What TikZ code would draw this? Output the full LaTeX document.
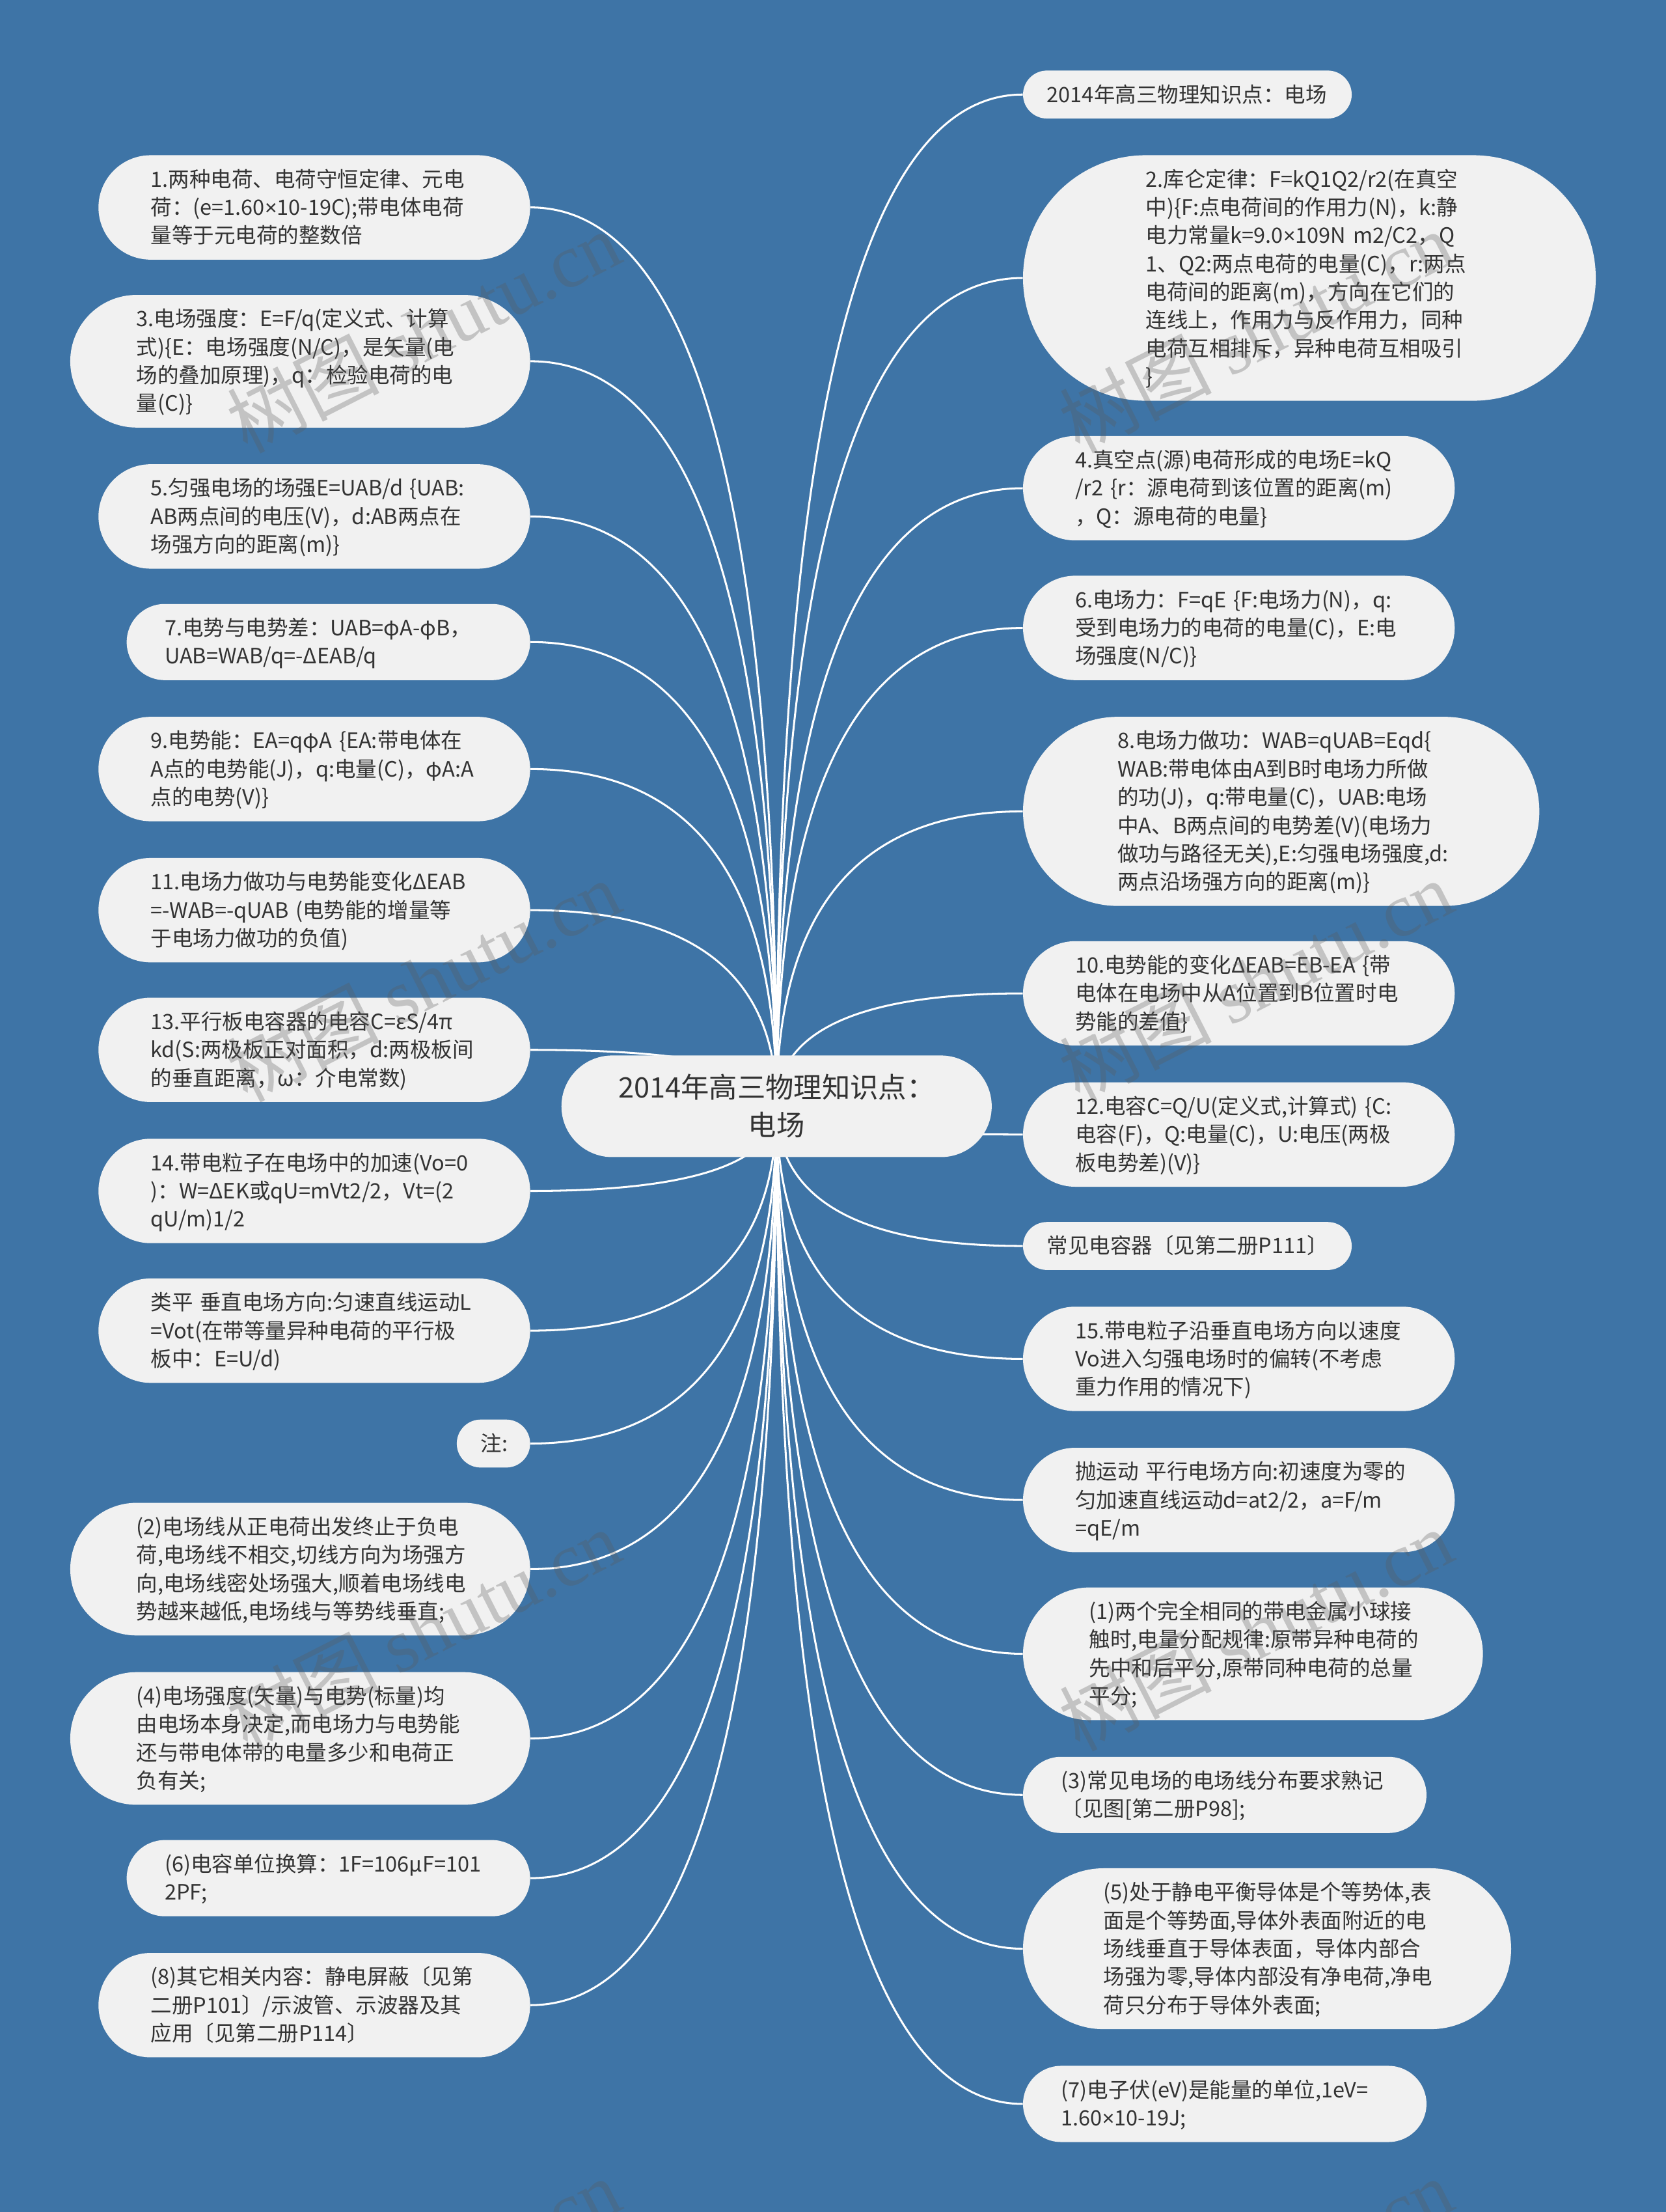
\documentclass[tikz,border=0pt]{standalone}
\usepackage{fontspec}
\setmainfont{Noto Sans CJK SC}
\newfontfamily\markfont{Liberation Serif}
\newfontfamily\symfont{Liberation Sans}
\newcommand{\tms}{{\symfont ×}}
\newcommand{\leafstrut}{\rule[-4.5pt]{0pt}{20pt}}
\newcommand{\hubstrut}{\rule[-6.1pt]{0pt}{27pt}}
\usetikzlibrary{backgrounds,calc}
\definecolor{mapblue}{RGB}{62,116,166}
\definecolor{nodegray}{RGB}{241,241,241}
\definecolor{inkgray}{RGB}{51,51,51}
\definecolor{markgray}{RGB}{90,90,90}
\tikzset{
    x=1pt, y=-1pt,
    leaf/.style={rectangle, fill=nodegray, text=inkgray, inner xsep={10pt*#1+7pt}, inner ysep=7pt,
        rounded corners={10pt*#1+7pt}, text width=232pt, align=left, font=\fontsize{15}{20}\selectfont,
        execute at begin node=\leafstrut, execute at end node=\leafstrut},
    hub/.style={rectangle, fill=nodegray, text=inkgray, inner xsep=36pt, inner ysep=9pt,
        rounded corners=36pt, text width=233pt, align=center, font=\fontsize{20}{27}\selectfont,
        execute at begin node=\hubstrut, execute at end node=\hubstrut},
    link/.style={draw=white, line width=1.4pt},
    mark text/.style={rotate=27, text=markgray, opacity=0.3, font=\fontsize{54}{54}\selectfont}
}

\begin{document}
\begin{tikzpicture}
    \useasboundingbox (0,0) rectangle (1181,1567.6);
    \node[hub] (root) at (550.5,784) {2014年高三物理知识点：\\电场};

    % left side
    \node[leaf=3,anchor=east] (l1) at (376,147) {1.两种电荷、电荷守恒定律、元电\\荷：(e=1.60\tms10-19C);带电体电荷\\量等于元电荷的整数倍};
    \node[leaf=4,anchor=east] (l2) at (376,256) {3.电场强度：E=F/q(定义式、计算\\式)\{E：电场强度(N/C)，是矢量(电\\场的叠加原理)，q：检验电荷的电\\量(C)\}};
    \node[leaf=3,anchor=east] (l3) at (376,366) {5.匀强电场的场强E=UAB/d \{UAB:\\AB两点间的电压(V)，d:AB两点在\\场强方向的距离(m)\}};
    \node[leaf=2,anchor=east] (l4) at (376,455) {7.电势与电势差：UAB=φA-φB，\\UAB=WAB/q=-ΔEAB/q};
    \node[leaf=3,anchor=east] (l5) at (376,545) {9.电势能：EA=qφA \{EA:带电体在\\A点的电势能(J)，q:电量(C)，φA:A\\点的电势(V)\}};
    \node[leaf=3,anchor=east] (l6) at (376,645) {11.电场力做功与电势能变化ΔEAB\\=-WAB=-qUAB (电势能的增量等\\于电场力做功的负值)};
    \node[leaf=3,anchor=east] (l7) at (376,744) {13.平行板电容器的电容C=εS/4π\\kd(S:两极板正对面积，d:两极板间\\的垂直距离，ω：介电常数)};
    \node[leaf=3,anchor=east] (l8) at (376,844) {14.带电粒子在电场中的加速(Vo=0\\)：W=ΔEK或qU=mVt2/2，Vt=(2\\qU/m)1/2};
    \node[leaf=3,anchor=east] (l9) at (376,943) {类平~垂直电场方向:匀速直线运动L\\=Vot(在带等量异种电荷的平行极\\板中：E=U/d)};
    \node[leaf=1,text width=18pt,anchor=east] (l10) at (376,1023) {注:};
    \node[leaf=4,anchor=east] (l11) at (376,1112) {(2)电场线从正电荷出发终止于负电\\荷,电场线不相交,切线方向为场强方\\向,电场线密处场强大,顺着电场线电\\势越来越低,电场线与等势线垂直;};
    \node[leaf=4,anchor=east] (l12) at (376,1232) {(4)电场强度(矢量)与电势(标量)均\\由电场本身决定,而电场力与电势能\\还与带电体带的电量多少和电荷正\\负有关;};
    \node[leaf=2,anchor=east] (l13) at (376,1331) {(6)电容单位换算：1F=106μF=101\\2PF;};
    \node[leaf=3,anchor=east] (l14) at (376,1421) {(8)其它相关内容：静电屏蔽〔见第\\二册P101〕/示波管、示波器及其\\应用〔见第二册P114〕};

    % right side
    \node[leaf=1,text width=199pt,anchor=west] (r1) at (725,67) {2014年高三物理知识点：电场};
    \node[leaf=8,anchor=west] (r2) at (725,197) {2.库仑定律：F=kQ1Q2/r2(在真空\\中)\{F:点电荷间的作用力(N)，k:静\\电力常量k=9.0\tms109N m2/C2，Q\\1、Q2:两点电荷的电量(C)，r:两点\\电荷间的距离(m)，方向在它们的\\连线上，作用力与反作用力，同种\\电荷互相排斥，异种电荷互相吸引\\\}};
    \node[leaf=3,anchor=west] (r3) at (725,346) {4.真空点(源)电荷形成的电场E=kQ\\/r2 \{r：源电荷到该位置的距离(m)\\，Q：源电荷的电量\}};
    \node[leaf=3,anchor=west] (r4) at (725,445) {6.电场力：F=qE \{F:电场力(N)，q:\\受到电场力的电荷的电量(C)，E:电\\场强度(N/C)\}};
    \node[leaf=6,anchor=west] (r5) at (725,575) {8.电场力做功：WAB=qUAB=Eqd\{\\WAB:带电体由A到B时电场力所做\\的功(J)，q:带电量(C)，UAB:电场\\中A、B两点间的电势差(V)(电场力\\做功与路径无关),E:匀强电场强度,d:\\两点沿场强方向的距离(m)\}};
    \node[leaf=3,anchor=west] (r6) at (725,704) {10.电势能的变化ΔEAB=EB-EA \{带\\电体在电场中从A位置到B位置时电\\势能的差值\}};
    \node[leaf=3,anchor=west] (r7) at (725,804) {12.电容C=Q/U(定义式,计算式) \{C:\\电容(F)，Q:电量(C)，U:电压(两极\\板电势差)(V)\}};
    \node[leaf=1,text width=199pt,anchor=west] (r8) at (725,883) {常见电容器〔见第二册P111〕};
    \node[leaf=3,anchor=west] (r9) at (725,963) {15.带电粒子沿垂直电场方向以速度\\Vo进入匀强电场时的偏转(不考虑\\重力作用的情况下)};
    \node[leaf=3,anchor=west] (r10) at (725,1063) {抛运动~平行电场方向:初速度为零的\\匀加速直线运动d=at2/2，a=F/m\\=qE/m};
    \node[leaf=4,anchor=west] (r11) at (725,1172) {(1)两个完全相同的带电金属小球接\\触时,电量分配规律:原带异种电荷的\\先中和后平分,原带同种电荷的总量\\平分;};
    \node[leaf=2,anchor=west] (r12) at (725,1272) {(3)常见电场的电场线分布要求熟记\\〔见图[第二册P98];};
    \node[leaf=5,anchor=west] (r13) at (725,1381) {(5)处于静电平衡导体是个等势体,表\\面是个等势面,导体外表面附近的电\\场线垂直于导体表面，导体内部合\\场强为零,导体内部没有净电荷,净电\\荷只分布于导体外表面;};
    \node[leaf=2,anchor=west] (r14) at (725,1491) {(7)电子伏(eV)是能量的单位,1eV=\\1.60\tms10-19J;};

    \begin{scope}[on background layer]
        \fill[mapblue] (0,0) rectangle (1181,1567.6);
        \foreach \n/\side in {l1/east,l2/east,l3/east,l4/east,l5/east,l6/east,l7/east,l8/east,l9/east,l10/east,l11/east,l12/east,l13/east,l14/east,r1/west,r2/west,r3/west,r4/west,r5/west,r6/west,r7/west,r8/west,r9/west,r10/west,r11/west,r12/west,r13/west,r14/west}
            \draw[link] (root.center) .. controls ($(root.center)!2/3!(root.center |- \n.\side)$) and ($(\n.\side)!2/3!(root.center |- \n.\side)$) .. (\n.\side);
    \end{scope}

    % watermark
    \begin{scope}
        \clip (0,0) rectangle (1181,1567.6);
        \foreach \row in {0,1,2,3}
            \foreach \col in {0,1}
                \node[mark text] (mark\row\col) at (300+590*\col,235+460*\row) {树图 {\markfont shutu.cn}};
    \end{scope}
\end{tikzpicture}
\end{document}
